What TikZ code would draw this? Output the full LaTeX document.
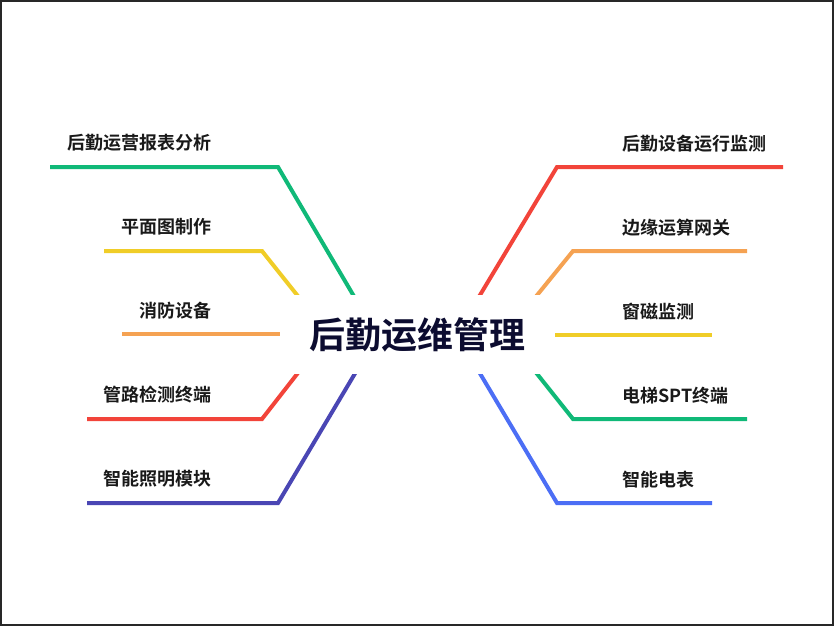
\documentclass[tikz,border=0pt]{standalone}
\usepackage{fontspec}
\newfontfamily\cjk{Noto Sans CJK SC Bold}
\definecolor{cgreen}{RGB}{16,185,120}
\definecolor{cred}{RGB}{242,68,58}
\definecolor{cyellow}{RGB}{240,205,40}
\definecolor{corange}{RGB}{245,162,82}
\definecolor{cpurple}{RGB}{74,70,180}
\definecolor{cblue}{RGB}{76,110,245}
\definecolor{ctitle}{RGB}{12,12,48}
\definecolor{cframe}{RGB}{40,40,40}
\begin{document}
\begin{tikzpicture}[x=1pt,y=-1pt,
  branch/.style={line width=4pt},
  lbl/.style={font=\cjk\fontsize{18}{20}\selectfont, text=black!90, inner sep=0pt},
  title/.style={font=\cjk\fontsize{36}{40}\selectfont, text=ctitle, fill=white,
    minimum width=275pt, minimum height=79pt, inner sep=0pt}]
\useasboundingbox (0,0) rectangle (834,626);
\draw[cframe, line width=2pt] (1,1) rectangle (833,625);
% coordinates
\coordinate (g1a) at (50,167);  \coordinate (g1b) at (278,167); \coordinate (g1c) at (362,310);
\coordinate (y1a) at (104,251); \coordinate (y1b) at (262,251); \coordinate (y1c) at (309,310);
\coordinate (o1a) at (122,334); \coordinate (o1c) at (300,334);
\coordinate (r1a) at (87,419);  \coordinate (r1b) at (262,419); \coordinate (r1c) at (308,360);
\coordinate (p1a) at (87,503);  \coordinate (p1b) at (278,503); \coordinate (p1c) at (363,360);
\coordinate (r2a) at (783,167); \coordinate (r2b) at (557,167); \coordinate (r2c) at (471,310);
\coordinate (o2a) at (747,251); \coordinate (o2b) at (573,251); \coordinate (o2c) at (525,310);
\coordinate (y2a) at (712,335); \coordinate (y2c) at (535,335);
\coordinate (g2a) at (747,419); \coordinate (g2b) at (573,419); \coordinate (g2c) at (526,360);
\coordinate (b2a) at (712,503); \coordinate (b2b) at (557,503); \coordinate (b2c) at (472,360);
% branches
\draw[branch, cgreen]  (g1c) -- (g1b) -- (g1a);
\draw[branch, cyellow] (y1c) -- (y1b) -- (y1a);
\draw[branch, corange] (o1c) -- (o1a);
\draw[branch, cred]    (r1c) -- (r1b) -- (r1a);
\draw[branch, cpurple] (p1c) -- (p1b) -- (p1a);
\draw[branch, cred]    (r2c) -- (r2b) -- (r2a);
\draw[branch, corange] (o2c) -- (o2b) -- (o2a);
\draw[branch, cyellow] (y2c) -- (y2a);
\draw[branch, cgreen]  (g2c) -- (g2b) -- (g2a);
\draw[branch, cblue]   (b2c) -- (b2b) -- (b2a);
% centre
\node[title] (root) at (417.5,334.5) {后勤运维管理};
% labels
\node[lbl, anchor=east] (l1) at (212,143) {后勤运营报表分析};
\node[lbl, anchor=east] (l2) at (212,227) {平面图制作};
\node[lbl, anchor=east] (l3) at (212,311) {消防设备};
\node[lbl, anchor=east] (l4) at (212,395) {管路检测终端};
\node[lbl, anchor=east] (l5) at (212,479) {智能照明模块};
\node[lbl, anchor=west] (r1) at (622,144) {后勤设备运行监测};
\node[lbl, anchor=west] (r2) at (622,228) {边缘运算网关};
\node[lbl, anchor=west] (r3) at (622,312) {窗磁监测};
\node[lbl, anchor=west] (r4) at (622,396) {电梯SPT终端};
\node[lbl, anchor=west] (r5) at (622,480) {智能电表};
\end{tikzpicture}
\end{document}
